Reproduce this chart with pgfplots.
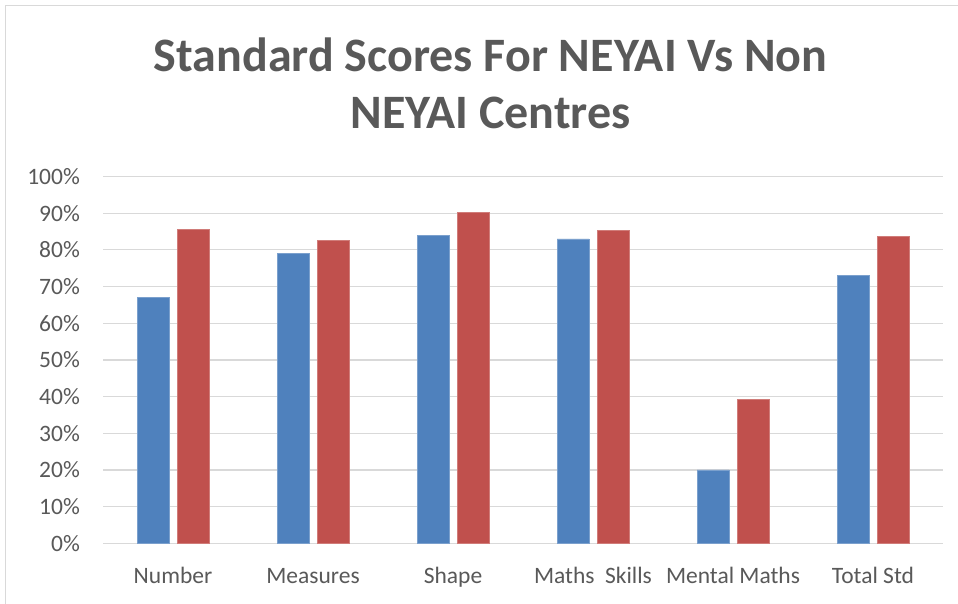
\documentclass[border=0pt]{standalone}
\usepackage{pgfplots}
\pgfplotsset{compat=1.18}
\usepackage{fontspec}
\setmainfont{Carlito}
\definecolor{gridgray}{HTML}{D9D9D9}
\definecolor{txt}{HTML}{595959}
\definecolor{barblue}{HTML}{4F81BD}
\definecolor{barred}{HTML}{C0504D}
\begin{document}
\begin{tikzpicture}[x=1pt,y=1pt]
\useasboundingbox (0,0) rectangle (958,603);
\fill[white] (0,0) rectangle (958,603);
\draw[color=gridgray, line width=1.2pt] (5.5,-20) rectangle (990,597.5);
\node[anchor=base, text=txt, font=\fontsize{48}{58}\selectfont\bfseries] at (490.5,531) {Standard Scores For NEYAI Vs Non};
\node[anchor=base, text=txt, font=\fontsize{48}{58}\selectfont\bfseries] at (490.5,474.7) {NEYAI Centres};
\begin{axis}[
  at={(103pt,59.7pt)}, anchor=south west,
  scale only axis, width=840pt, height=366.7pt,
  ymin=0, ymax=100, xmin=-0.5, xmax=5.5,
  ybar=8pt, bar width=32pt,
  ytick={0,10,...,100},
  xtick={0,1,2,3,4,5},
  xticklabels={Number, Measures, Shape, {Maths\hspace{0.45em}Skills}, Mental Maths, Total Std},
  ymajorgrids, grid style={gridgray, line width=1.1pt},
  axis line style={draw=none},
  major tick length=0pt,
  /pgf/number format/assume math mode=true,
  yticklabel={\pgfmathprintnumber{\tick}\%},
  yticklabel style={anchor=east, inner sep=0pt, xshift=-23pt, text=txt, font=\fontsize{23.5}{28}\selectfont},
  xticklabel style={anchor=base, inner sep=0pt, yshift=-39.7pt, text=txt, font=\fontsize{23.5}{28}\selectfont},
]
\addplot[fill=barblue, draw=barblue!75!white, line width=0.6pt] coordinates {(0,67) (1,79) (2,84) (3,83) (4,20) (5,73)};
\addplot[fill=barred, draw=barred!75!white, line width=0.6pt] coordinates {(0,85.7) (1,82.5) (2,90.3) (3,85.4) (4,39.3) (5,83.7)};
\end{axis}
\end{tikzpicture}
\end{document}
